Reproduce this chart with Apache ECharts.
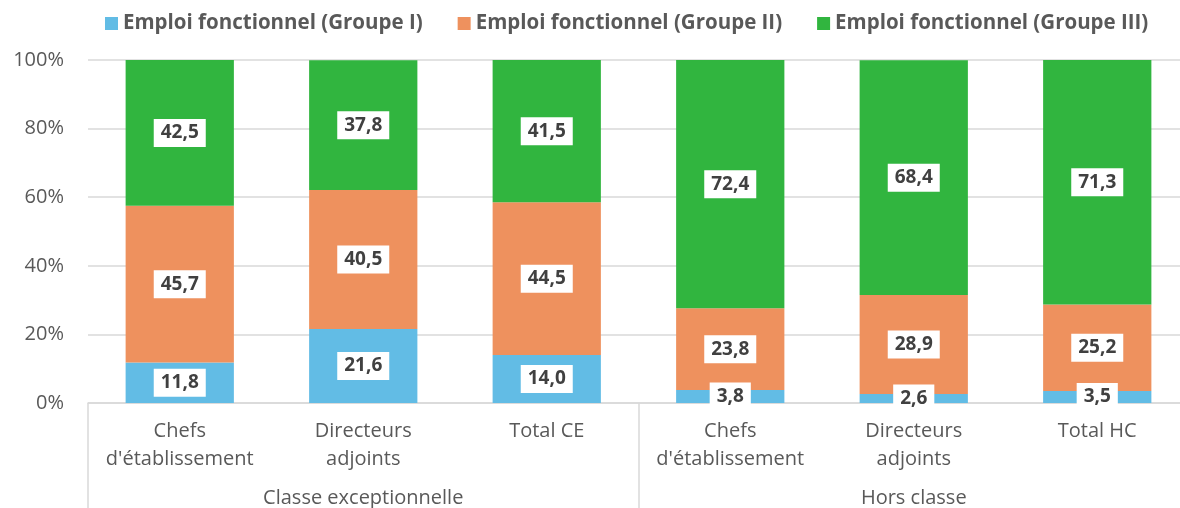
<!DOCTYPE html>
<html lang="fr">
<head>
    <meta charset="UTF-8">
    <title>Emplois fonctionnels</title>
    <script src="https://cdn.jsdelivr.net/npm/echarts@6/dist/echarts.min.js"></script>
    <style>
        html, body { margin: 0; padding: 0; background: #fff; overflow: hidden; }
    </style>
</head>
<body>
    <!-- le graphique déborde un peu à droite, comme dans l'original -->
    <div id="main" style="width: 1189px; height: 508px;"></div>
    <script type="text/javascript">
        // catégories et regroupements
        var categories = ["Chefs\nd'établissement", 'Directeurs\nadjoints', 'Total CE',
            "Chefs\nd'établissement", 'Directeurs\nadjoints', 'Total HC'];
        var groups = ['Classe exceptionnelle', 'Hors classe'];
        var seriesNames = ['Emploi fonctionnel (Groupe I)', 'Emploi fonctionnel (Groupe II)', 'Emploi fonctionnel (Groupe III)'];

        // parts en %
        var groupeI = [11.8, 21.6, 14.0, 3.8, 2.6, 3.5];
        var groupeII = [45.7, 40.5, 44.5, 23.8, 28.9, 25.2];
        var groupeIII = [42.5, 37.8, 41.5, 72.4, 68.4, 71.3];

        var yTicks = [0, 20, 40, 60, 80, 100];

        var colors = ['#62BCE5', '#EE915E', '#31B53F'];
        var font = "'Open Sans', sans-serif";

        var myChart = echarts.init(document.getElementById('main'));

        function makeSeries(name, data) {
            return {
                name: name,
                type: 'bar',
                stack: 'total',
                barWidth: '59%',
                data: data,
                label: {
                    show: true,
                    position: 'inside',
                    formatter: function (p) { return p.value.toFixed(1).replace('.', ','); },
                    backgroundColor: '#fff',
                    padding: [5, 7, 4, 7],
                    color: '#404040',
                    fontFamily: font,
                    fontWeight: 'bold',
                    fontSize: 19
                }
            };
        }

        var option = {
            color: colors,
            animation: false,
            legend: {
                top: 8,
                left: 100,
                itemWidth: 13,
                itemHeight: 13,
                itemGap: 35,
                icon: 'rect',
                textStyle: { color: '#595959', fontFamily: font, fontWeight: 'bold', fontSize: 20.5 },
                data: seriesNames
            },
            grid: { left: 88, right: 0, top: 60, bottom: 105 },
            xAxis: [
                {
                    type: 'category',
                    data: categories,
                    axisLine: { lineStyle: { color: '#d9d9d9', width: 1.5 } },
                    axisTick: { show: false },
                    axisLabel: {
                        color: '#595959', fontFamily: font, fontSize: 20,
                        lineHeight: 28, margin: 14, interval: 0
                    }
                },
                {
                    type: 'category',
                    data: groups,
                    position: 'bottom',
                    offset: 105,
                    axisLine: { show: false },
                    axisTick: { show: true, inside: true, length: 105, lineStyle: { color: '#d9d9d9', width: 1.5 } },
                    axisLabel: {
                        inside: true, margin: 0,
                        color: '#595959', fontFamily: font, fontSize: 20
                    }
                }
            ],
            yAxis: {
                type: 'value',
                min: yTicks[0],
                max: yTicks[yTicks.length - 1],
                interval: 20,
                axisLabel: {
                    formatter: '{value}%', color: '#595959', fontFamily: font,
                    fontSize: 20, margin: 24
                },
                splitLine: { lineStyle: { color: '#d9d9d9', width: 1.5 } }
            },
            series: [
                makeSeries(seriesNames[0], groupeI),
                makeSeries(seriesNames[1], groupeII),
                makeSeries(seriesNames[2], groupeIII)
            ]
        };
        myChart.setOption(option);
    </script>
</body>
</html>
